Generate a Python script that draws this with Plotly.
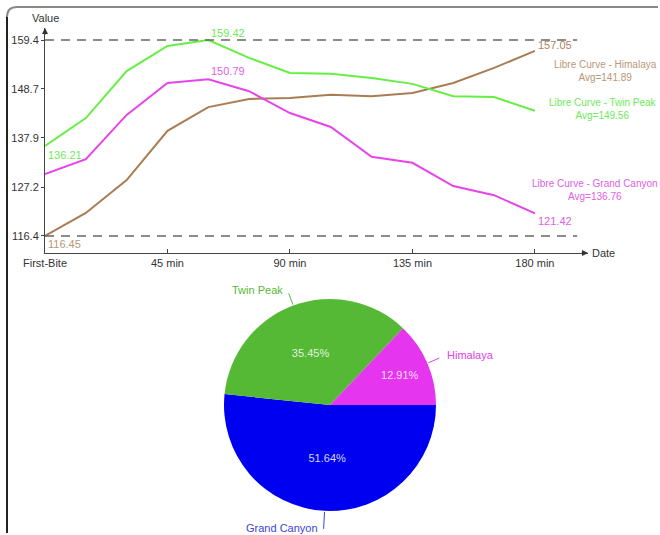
import plotly.graph_objects as go
import math

# ---------------- data ----------------
minutes = [0, 15, 30, 45, 60, 75, 90, 105, 120, 135, 150, 165, 180]
himalaya = [116.45, 121.5, 128.7, 139.5, 144.7, 146.5, 146.7, 147.4, 147.1, 147.8, 150.0, 153.3, 157.05]
twin_peak = [136.21, 142.3, 152.6, 158.1, 159.42, 155.5, 152.2, 152.0, 151.1, 149.8, 147.1, 146.9, 143.9]
grand_canyon = [130.0, 133.3, 143.0, 150.0, 150.79, 148.2, 143.4, 140.35, 133.8, 132.5, 127.4, 125.4, 121.42]

series_names = ["Himalaya", "Twin Peak", "Grand Canyon"]
series_avgs = ["141.89", "149.56", "136.76"]

x_tickvals = [0, 45, 90, 135, 180]
x_ticktext = ["First-Bite", "45 min", "90 min", "135 min", "180 min"]
y_tickvals = [116.45, 127.19, 137.94, 148.68, 159.42]
y_ticktext = ["116.4", "127.2", "137.9", "148.7", "159.4"]

# pie slices, in clockwise order starting at 3 o'clock
pie_labels = ["Grand Canyon", "Twin Peak", "Himalaya"]
pie_values = [51.64, 35.45, 12.91]

# ---------------- style ----------------
W, H = 660, 535
FONT = "Liberation Sans"
line_colors = {"Himalaya": "#A97C52", "Twin Peak": "#66EE44", "Grand Canyon": "#E645E8"}
text_colors = {"Himalaya": "#B8977A", "Twin Peak": "#6EEA5A", "Grand Canyon": "#E060E6"}
pie_colors = {"Grand Canyon": "#0000F0", "Twin Peak": "#55B936", "Himalaya": "#E535EE"}
pie_text_colors = {"Grand Canyon": "#3A44D8", "Twin Peak": "#55B936", "Himalaya": "#E040E8"}

def px(xp):
    return xp / W

def py(yp):
    return 1 - yp / H

X_RANGE = [0, 199.5]
Y_RANGE = [112.72, 162.05]

fig = go.Figure()
data_map = {"Himalaya": himalaya, "Twin Peak": twin_peak, "Grand Canyon": grand_canyon}
for name in series_names:
    fig.add_trace(go.Scatter(x=minutes, y=data_map[name], mode="lines",
                             line=dict(color=line_colors[name], width=2),
                             hoverinfo="skip", showlegend=False))

# pie
cx, cy, r = 330, 405, 106
fig.add_trace(go.Pie(labels=pie_labels, values=pie_values, sort=False,
                     direction="clockwise", rotation=90,
                     marker=dict(colors=[pie_colors[l] for l in pie_labels], line=dict(width=0)),
                     textinfo="percent", texttemplate="%{percent:.2%}",
                     textposition="inside", insidetextorientation="horizontal",
                     insidetextfont=dict(color="rgba(255,255,255,0.85)", size=11, family=FONT),
                     domain=dict(x=[px(cx - r), px(cx + r)], y=[py(cy + r), py(cy - r)]),
                     hoverinfo="skip", showlegend=False))

shapes = []
annotations = []

# dashed reference lines at max and min
for v in [max(twin_peak), min(himalaya)]:
    shapes.append(dict(type="line", xref="x", yref="y", x0=0, x1=195.5, y0=v, y1=v,
                       line=dict(color="#666666", width=1.5, dash="9px,7px")))

# axis arrows
annotations.append(dict(xref="x", yref="y", x=X_RANGE[1], y=Y_RANGE[0], ax=-8, ay=0,
                        showarrow=True, arrowhead=2, arrowsize=1, arrowwidth=1.2,
                        arrowcolor="#333333", text=""))
annotations.append(dict(xref="x", yref="y", x=0, y=Y_RANGE[1], ax=0, ay=8,
                        showarrow=True, arrowhead=2, arrowsize=1, arrowwidth=1.2,
                        arrowcolor="#333333", text=""))
annotations.append(dict(xref="paper", yref="paper", x=px(590), y=py(253), xanchor="left",
                        yanchor="middle", text="Date", showarrow=False,
                        font=dict(size=11, color="#333333", family=FONT)))
annotations.append(dict(xref="paper", yref="paper", x=px(45), y=py(18), xanchor="center",
                        yanchor="middle", text="Value", showarrow=False,
                        font=dict(size=11, color="#333333", family=FONT)))

# point value labels
def val_label(x, y, text, color, ys, xs=1):
    annotations.append(dict(xref="x", yref="y", x=x, y=y, text=text, showarrow=False,
                            xanchor="left", yanchor="middle", xshift=xs, yshift=ys,
                            font=dict(size=11, color=color, family=FONT)))

val_label(minutes[0], twin_peak[0], f"{twin_peak[0]:.2f}", text_colors["Twin Peak"], -9)
val_label(minutes[0], himalaya[0], f"{himalaya[0]:.2f}", text_colors["Himalaya"], -8)
i = twin_peak.index(max(twin_peak))
val_label(minutes[i], twin_peak[i], f"{twin_peak[i]:.2f}", text_colors["Twin Peak"], 7)
i = grand_canyon.index(max(grand_canyon))
val_label(minutes[i], grand_canyon[i], f"{grand_canyon[i]:.2f}", text_colors["Grand Canyon"], 8)
val_label(minutes[-1], himalaya[-1], f"{himalaya[-1]:.2f}", "#A98560", 6)
val_label(minutes[-1], grand_canyon[-1], f"{grand_canyon[-1]:.2f}", text_colors["Grand Canyon"], -8)

# series labels
series_label_pos = {"Himalaya": (605, 71), "Twin Peak": (603, 109), "Grand Canyon": (595, 190)}
for name, avg in zip(series_names, series_avgs):
    xx, yy = series_label_pos[name]
    annotations.append(dict(xref="paper", yref="paper", x=px(xx), y=py(yy),
                            xanchor="center", yanchor="middle", showarrow=False,
                            text=f"Libre Curve - {name}<br>Avg={avg}",
                            font=dict(size=10, color=text_colors[name], family=FONT)))

# pie outside labels with leader lines (clockwise from 3 o'clock)
total = sum(pie_values)
cum = 0.0
for lab, val in zip(pie_labels, pie_values):
    col = pie_text_colors[lab]
    mid = -(cum + val / 2) / total * 2 * math.pi
    cum += val
    ca, sa = math.cos(mid), math.sin(mid)
    x0, y0 = cx + (r + 1) * ca, cy - (r + 1) * sa
    rl = r + (18 if sa < -0.9 else 13)
    x1, y1 = cx + rl * ca, cy - rl * sa
    shapes.append(dict(type="line", xref="paper", yref="paper", x0=px(x0), y0=py(y0),
                       x1=px(x1), y1=py(y1), line=dict(color=col, width=1)))
    if ca >= 0:
        xa, xs = "left", 6
    else:
        xa, xs = "right", -4
    ys = 1 if sa < -0.9 else 3
    annotations.append(dict(xref="paper", yref="paper", x=px(x1), y=py(y1), text=lab,
                            showarrow=False, xanchor=xa, yanchor="middle", xshift=xs,
                            yshift=ys, font=dict(size=11, color=col, family=FONT)))

# frame (rounded top-left corner)
rr = 10
shapes.append(dict(type="path", xref="paper", yref="paper",
                   path=f"M {px(7)},{py(533)} L {px(7)},{py(7 + rr)}",
                   line=dict(color="#222222", width=2)))
shapes.append(dict(type="path", xref="paper", yref="paper",
                   path=f"M {px(7)},{py(7 + rr)} Q {px(7)},{py(7)} {px(7 + rr)},{py(7)} L {px(658)},{py(7)}",
                   line=dict(color="#888888", width=2)))

fig.update_layout(
    width=W, height=H, margin=dict(l=0, r=0, t=0, b=0, autoexpand=False),
    paper_bgcolor="white", plot_bgcolor="white",
    font=dict(family=FONT, size=11, color="#333333"),
    xaxis=dict(domain=[px(45), px(588)], range=X_RANGE, tickvals=x_tickvals,
               ticktext=x_ticktext, showgrid=False, zeroline=False, showline=True,
               automargin=False,
               linecolor="#444444", linewidth=1, ticks="inside", ticklen=4,
               tickcolor="#444444", tickfont=dict(size=11, color="#333333")),
    yaxis=dict(domain=[py(253), py(28)], range=Y_RANGE, tickvals=y_tickvals,
               ticktext=y_ticktext, showgrid=False, zeroline=False, showline=True,
               automargin=False,
               linecolor="#444444", linewidth=1, ticks="outside", ticklen=3,
               tickcolor="#444444", tickfont=dict(size=11, color="#333333")),
    shapes=shapes, annotations=annotations, hovermode=False,
)

fig.write_html("out.html")
